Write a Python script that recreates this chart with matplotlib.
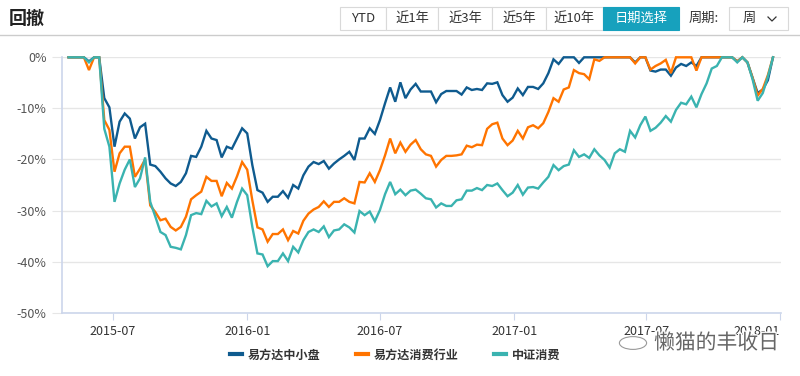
"""Drawdown chart - three funds, weekly, 2015-05 .. 2017-12."""
import matplotlib
matplotlib.use("Agg")
import matplotlib.pyplot as plt
import matplotlib.patheffects as pe
from matplotlib.patches import Rectangle, Circle
from matplotlib.lines import Line2D
import pandas as pd

plt.rcParams["font.family"] = ["Noto Sans CJK SC", "DejaVu Sans"]

W, H = 800, 376

# weekly drawdown (%) from 2015-05-01
START = "2015-05-01"
SMALLCAP = [
    0, 0, 0, 0, -0.8, 0, 0, -8, -9.8, -17.5,
    -12.6, -11, -12, -15.9, -13.7, -13, -21, -21.3, -22.4, -23.7,
    -24.7, -25.2, -24.4, -22.7, -19.3, -19.5, -17.5, -14.4, -15.9, -16.2,
    -19.6, -17.5, -17.9, -15.9, -13.9, -14.9, -21.1, -26, -26.5, -28.3,
    -27.3, -27.3, -26.2, -27.5, -25, -25.7, -23.1, -21.4, -20.5, -20.9,
    -20.3, -21.8, -20.8, -20, -19.3, -18.5, -20.1, -15.9, -15.9, -13.9,
    -15, -12.3, -9, -5.9, -8.7, -4.9, -8, -6.3, -5.2, -6.7,
    -6.7, -6.7, -8.8, -7.2, -6.6, -6.6, -6.6, -7.3, -5.9, -6.4,
    -6.2, -6.4, -5.1, -5.2, -4.9, -7.4, -8.7, -7.9, -6.1, -7.4,
    -5.8, -5.8, -6.2, -5.1, -3.1, -0.4, -1.3, 0, 0, 0,
    -1.1, 0, 0, 0, 0, 0, 0, 0, 0, 0,
    0, -1.0, 0, 0, -2.6, -2.8, -2.4, -2.4, -3.6, -2,
    -1.3, -1.7, -1, -1.7, 0, 0, 0, 0, 0, 0,
    0, -0.8, 0, -1.0, -4.0, -7.0, -6.3, -4.5, 0,
]
CONSUMER_FUND = [
    0, 0, 0, 0, -2.5, 0, 0, -12.3, -14.2, -22.4,
    -18.8, -17.5, -17.5, -23.4, -21.8, -20, -29, -30.3, -31.9, -31.6,
    -33.2, -33.9, -33.2, -31.2, -27.8, -27, -26.3, -23.4, -24.2, -24.2,
    -27.2, -24.6, -25.7, -23.3, -20.5, -22, -28, -33.3, -33.7, -36.1,
    -34.6, -34.6, -33.7, -35.8, -34, -34.5, -32, -30.6, -29.8, -29.3,
    -28.2, -29.3, -28.3, -28.3, -27.6, -28.3, -28.6, -24.4, -24.5, -22.7,
    -24.4, -22.1, -19.2, -15.9, -18.8, -16.7, -18.5, -17.1, -16.2, -18,
    -19, -19.3, -21.4, -20.1, -19.3, -19.3, -19.2, -19, -17.3, -17.6,
    -17.1, -17.2, -14, -13.1, -12.8, -15.9, -17.2, -16.3, -14.4, -15.9,
    -13.7, -13.3, -13.9, -12.9, -10.7, -8, -8.7, -6.3, -5.9, -2.5,
    -3.1, -3.3, -4.3, -0.4, -0.7, 0, 0, 0, 0, 0,
    0, -1.2, 0, 0, -2.4, -1.7, -1.2, -0.5, -3.1, 0,
    0, 0, 0, -2.6, 0, 0, 0, 0, 0, 0,
    0, -0.8, 0, -1.0, -4.0, -7.5, -6.2, -3.5, 0,
]
CSI_CONSUMER = [
    0, 0, 0, 0, -1, 0, 0, -14, -17.5, -28.3,
    -24.7, -22, -20, -25.4, -23.7, -19.6, -28.3, -31.2, -34.2, -34.8,
    -37.1, -37.3, -37.6, -34.8, -30.9, -30.5, -30.7, -28.1, -29.2, -28.6,
    -31.1, -29.3, -31.4, -28.3, -25.7, -27, -33.2, -38.4, -38.6, -40.9,
    -39.9, -39.9, -38.4, -39.9, -37.1, -38.2, -35.8, -34.2, -33.7, -34.2,
    -33.1, -35.2, -33.9, -33.7, -32.7, -33.3, -34.3, -30.1, -30.9, -30.2,
    -32.1, -29.9, -26.8, -24.4, -26.8, -25.9, -27, -26.1, -25.9, -26.7,
    -27.6, -27.8, -29.4, -28.6, -29.1, -29.1, -28, -27.8, -26.1, -26.1,
    -25.6, -26, -25, -25.2, -24.7, -26, -27.2, -26.5, -25, -26.9,
    -25.5, -25.4, -25.7, -24.5, -23.4, -21.1, -22.1, -21.3, -21, -18.2,
    -19.5, -19, -19.7, -18, -19.2, -20.1, -21.6, -18.8, -18, -18.5,
    -14.4, -15.7, -13.3, -11.6, -14.4, -13.8, -12.8, -11.5, -12.6, -10.3,
    -8.9, -9.2, -7.7, -9.8, -7.2, -5.1, -2.2, -1.7, 0, 0,
    0, -1, 0, -1.0, -4.3, -8.5, -7.0, -3.8, 0,
]
SERIES_NAMES = ["易方达中小盘", "易方达消费行业", "中证消费"]
COLORS = ["#0f5b8f", "#ff7400", "#3ab3b0"]

Y_TICKS = [0, -10, -20, -30, -40, -50]
X_TICKS = ["2015-07", "2016-01", "2016-07", "2017-01", "2017-07", "2018-01"]

BUTTONS = ["YTD", "近1年", "近3年", "近5年", "近10年", "日期选择"]
BUTTON_EDGES = [340, 386, 438, 492, 546, 603, 679]


def fx(px):
    return px / W


def fy(py):
    return 1 - py / H


def draw_header(fig):
    fig.text(fx(9), fy(18), "回撤", fontsize=13, fontweight="bold",
             color="#222222", va="center", ha="left")
    fig.add_artist(Line2D([0, 1], [fy(35), fy(35)], color="#cccccc", lw=1))
    top, bot = 7, 30
    for i, lab in enumerate(BUTTONS):
        x0, x1 = BUTTON_EDGES[i], BUTTON_EDGES[i + 1]
        active = lab == "日期选择"
        fig.add_artist(Rectangle((fx(x0), fy(bot)), fx(x1 - x0), (bot - top) / H,
                                 facecolor="#17a1bd" if active else "white",
                                 edgecolor="#17a1bd" if active else "#d9d9d9",
                                 lw=0.8))
        fig.text(fx((x0 + x1) / 2), fy((top + bot) / 2), lab, fontsize=9.5,
                 color="white" if active else "#333333", ha="center", va="center")
    fig.text(fx(704), fy((top + bot) / 2), "周期:", fontsize=9.5, color="#333333",
             ha="center", va="center")
    fig.add_artist(Rectangle((fx(729), fy(bot)), fx(59), (bot - top) / H,
                             facecolor="white", edgecolor="#d9d9d9", lw=0.8))
    fig.text(fx(749), fy((top + bot) / 2), "周", fontsize=9.5, color="#333333",
             ha="center", va="center")
    fig.add_artist(Line2D([fx(768), fx(772), fx(776)], [fy(17), fy(21), fy(17)],
                          color="#333333", lw=0.9))


def main():
    fig = plt.figure(figsize=(W / 100, H / 100), dpi=100)
    draw_header(fig)

    ax = fig.add_axes([fx(62), fy(312.7), fx(781 - 62), (312.7 - 57.3) / H])
    dates = pd.date_range(START, periods=len(SMALLCAP), freq="7D")
    for vals, name, col in zip([SMALLCAP, CONSUMER_FUND, CSI_CONSUMER],
                               SERIES_NAMES, COLORS):
        ax.plot(dates, vals, color=col, lw=1.7, label=name, clip_on=False,
                solid_joinstyle="miter")

    ax.set_ylim(-50, 0)
    ax.set_xlim(pd.Timestamp("2015-04-22"), pd.Timestamp("2018-01-02"))
    ax.set_yticks(Y_TICKS)
    ax.set_yticklabels([f"{v}%" for v in Y_TICKS])
    ax.set_xticks(pd.to_datetime([t + "-01" for t in X_TICKS]))
    xlabels = ax.set_xticklabels(X_TICKS)
    xlabels[-1].set_ha("right")
    ax.grid(axis="y", color="#e6e6e6", lw=1)
    ax.set_axisbelow(True)
    for s in ["top", "right"]:
        ax.spines[s].set_visible(False)
    for s in ["left", "bottom"]:
        ax.spines[s].set_color("#ccd6eb")
        ax.spines[s].set_linewidth(1.2)
    ax.tick_params(axis="y", length=7, color="#e6e6e6", labelsize=9,
                   labelcolor="#555555", pad=4)
    ax.tick_params(axis="x", length=5, color="#ccd6eb", labelsize=9,
                   labelcolor="#333333", pad=4)

    handles = [Line2D([], [], color=c, lw=3) for c in COLORS]
    fig.legend(handles, SERIES_NAMES, loc="center", bbox_to_anchor=(0.494, fy(355)),
               ncol=3, frameon=False, handlelength=1.0, handletextpad=0.5,
               columnspacing=2.9, prop={"size": 8.7, "weight": "bold"},
               labelcolor="#333333")

    # watermark
    fig.add_artist(Circle((fx(633), fy(343)), 0.017, transform=fig.transFigure,
                          facecolor="none", edgecolor="#999999", lw=0.8))
    fig.text(fx(654), fy(343), "懒猫的丰收日", fontsize=15, color="#666666",
             ha="left", va="center",
             path_effects=[pe.withStroke(linewidth=2, foreground="white")])

    fig.savefig("out.png", dpi=100)


if __name__ == "__main__":
    main()
